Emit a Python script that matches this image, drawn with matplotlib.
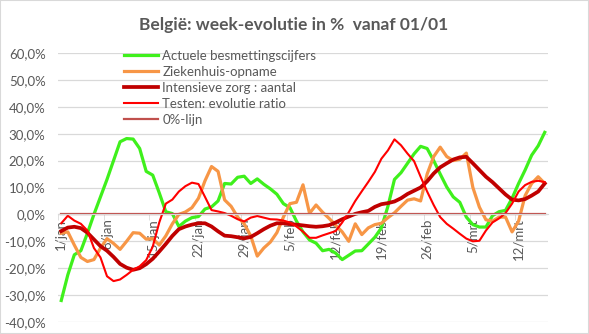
import matplotlib.pyplot as plt
from matplotlib.patches import Rectangle
from matplotlib.ticker import FuncFormatter

# dagelijkse week-evolutie (%), 1/jan t/m 16/mrt
besmettingen = [-32, -22.5, -15, -13.5, -7, 0, 6.5, 13, 20, 27,
                28.2, 28, 24.5, 16, 14.6, 8, 1, 0.3, -4.5, -2.5,
                -1.2, -0.8, 2, 2.8, 5, 11.5, 11.3, 13.8, 14.2, 11.5,
                13.2, 11.2, 9.5, 7.5, 4, 2.5, -2.5, -6.5, -9.5, -10.7,
                -13.5, -13, -14.4, -16.8, -15.2, -13.6, -13.5, -11, -8.5, -5,
                3, 13, 15.5, 19, 22.5, 25.3, 24.5, 20, 15, 10.2,
                6.5, 4.5, -1, -3.8, -4.7, -4.7, -0.5, 1, 1.5, 6,
                11.5, 16.5, 22, 25.5, 30.5]
ziekenhuis = [-7, -6.5, -11.4, -16, -17.5, -16.8, -12.5, -9, -10.8, -13,
              -10, -6.8, -7, -9.2, -9, -11.4, -8, -3.5, 0, 0.9,
              2.5, 6, 12.5, 17.8, 16, 5.4, 3, -1, -3.5, -8,
              -15.5, -12.5, -10.3, -6.8, -1, 4, 4.5, 11, 0.4, 3.5,
              0.8, -1.5, -4, -6.5, -10, -3.5, -7.5, -5, -3.8, -3.3,
              -1.2, 0.6, 3, 5.3, 5.8, 5, 15, 21.5, 25, 21.5,
              20, 20.5, 22.8, 10, 2.7, -2, -2.5, -1, -1, -6.5,
              -2.5, 7, 11.5, 14, 11.5]
intensieve_zorg = [-6.2, -4.9, -4.6, -5.1, -6.8, -9.3, -11.8, -13.5, -15.8, -18.4,
                   -19.8, -20.6, -20, -18.5, -16.5, -13.8, -11, -8, -5.5, -4.5,
                   -3.8, -3.3, -3.3, -4.5, -6.3, -7.9, -8.1, -8.5, -8.9, -8.4,
                   -7, -5.5, -4.2, -3.3, -3.3, -3.6, -3.8, -4.1, -4.4, -4.6,
                   -4.4, -4, -3, -1.8, -0.8, 0.2, 0.8, 1.3, 2.8, 3.8,
                   4.2, 4.8, 6, 7.6, 8.8, 10, 12.3, 15.2, 17.5, 19,
                   20.4, 21.2, 21.4, 19, 16.5, 14, 12, 9.7, 7.4, 5.5,
                   5.2, 5.7, 7, 8.5, 11.5]
testen = [-3.3, -0.5, -2.3, -3.5, -6, -12.5, -16, -23, -24.8, -24.2,
          -22.5, -20.6, -19.3, -17, -12, -3, 4, 5.5, 8.5, 10.5,
          11.8, 11.3, 6.5, 1.6, 1.1, 0.5, -0.5, -1.8, -2.6, -1.2,
          -0.6, -1.2, -1.8, -1.9, -2.3, -3, -4.5, -6.4, -8.7, -8.7,
          -7.8, -7, -6.2, -3, 0.8, 5, 8.6, 12.1, 15.8, 20.7,
          23.8, 27.9, 25.7, 22.6, 19.8, 14, 8.5, 3.5, -1, -3.5,
          -5.3, -7.2, -9, -10, -9.8, -6, -3, -1.5, 0.5, 4,
          8.5, 10.9, 12.1, 12.5, 12]
nul_lijn = [0] * len(besmettingen)

week_labels = ['1/jan', '8/jan', '15/jan', '22/jan', '29/jan', '5/feb',
               '12/feb', '19/feb', '26/feb', '5/mrt', '12/mrt']

###############################################################################
plt.rcParams['font.family'] = ['Lato', 'DejaVu Sans']
grey = '#595959'

fig = plt.figure(figsize=(5.89, 3.34), dpi=100)
ax = fig.add_axes([58 / 589, 1 - 322 / 334, 490 / 589, 269 / 334])

days = list(range(len(besmettingen)))
ax.plot(days, besmettingen, color='#3FF01C', lw=2.3, label='Actuele besmettingscijfers')
ax.plot(days, ziekenhuis, color='#F79646', lw=2.3, label='Ziekenhuis-opname')
ax.plot(days, intensieve_zorg, color='#C00000', lw=2.7, label='Intensieve zorg : aantal')
ax.plot(days, testen, color='#FF0000', lw=1.5, label='Testen: evolutie ratio')
ax.plot(days, nul_lijn, color='#C0504D', lw=1.6, label='0%-lijn')

ax.set_xlim(-0.5, len(days) - 0.5)
ax.set_ylim(-40, 60)
ax.set_yticks(range(-40, 61, 10))
ax.yaxis.set_major_formatter(FuncFormatter(lambda v, p: f'{v:.1f}%'.replace('.', ',')))
ax.grid(axis='y', color='#D9D9D9', lw=0.9)
ax.set_axisbelow(True)

# x-as door 0%
ax.spines['bottom'].set_position(('data', 0))
ax.spines['bottom'].set_color('#D9D9D9')
for s in ['top', 'right', 'left']:
    ax.spines[s].set_visible(False)
ax.set_xticks([7 * i for i in range(len(week_labels))])
ax.set_xticklabels(week_labels, rotation=90, color=grey, fontsize=9.5)
ax.tick_params(axis='x', length=0, pad=3)
ax.set_xticks([7 * i - 0.5 for i in range(len(week_labels))], minor=True)
ax.tick_params(axis='x', which='minor', length=4, color='#D9D9D9')
ax.tick_params(axis='y', length=0, pad=9, labelcolor=grey, labelsize=9.5)

ax.legend(loc='upper left', bbox_to_anchor=(124 / 589, 1 - 50 / 334),
          bbox_transform=fig.transFigure, frameon=False, fontsize=9.5,
          labelcolor=grey, handlelength=2.6, handletextpad=0.3,
          labelspacing=0.3, borderpad=0, borderaxespad=0)

fig.text(294 / 589, 1 - 25 / 334, 'België: week-evolutie in %  vanaf 01/01',
         ha='center', va='center', fontsize=12.5, fontweight='bold', color=grey)
fig.patches.append(Rectangle((0, 0), 1, 1, transform=fig.transFigure, fill=False,
                             edgecolor='#D9D9D9', lw=1.5))

plt.savefig('out.png', dpi=100)
